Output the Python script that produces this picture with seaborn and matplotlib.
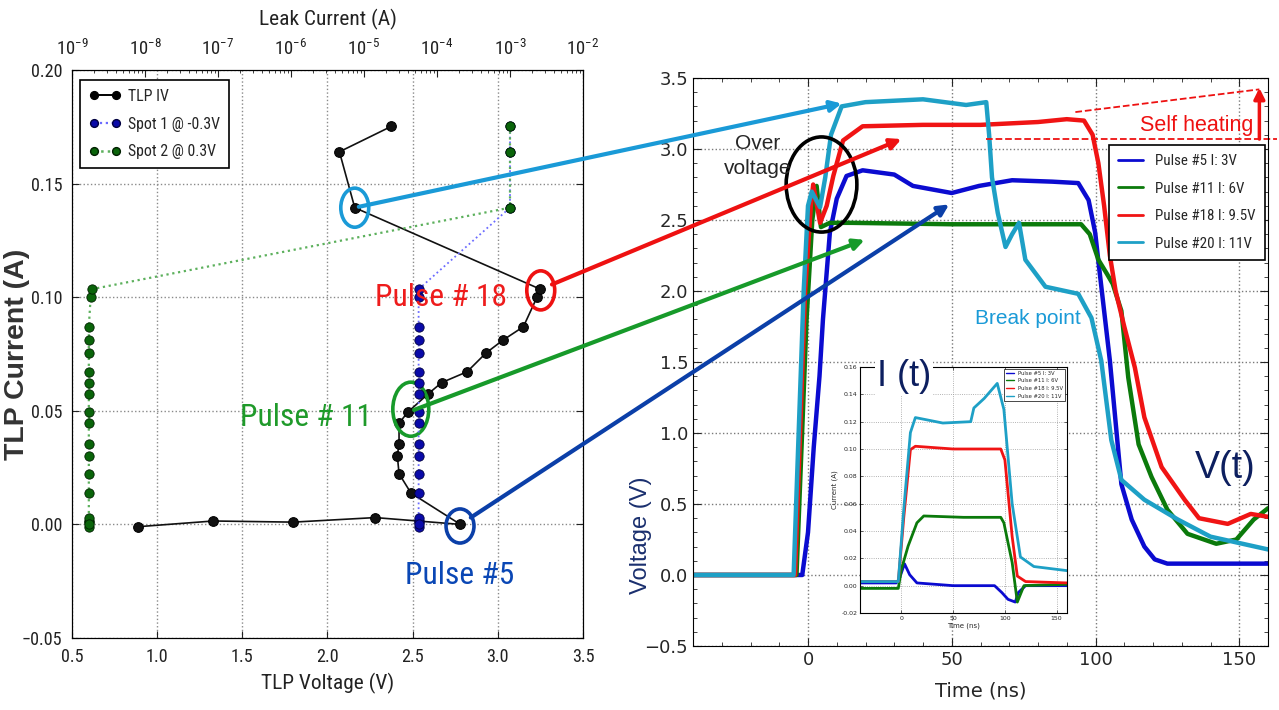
import matplotlib
matplotlib.use("Agg")
import matplotlib.pyplot as plt
import seaborn as sns
import numpy as np
import pandas as pd
from matplotlib.patches import Ellipse, ConnectionPatch
from matplotlib.lines import Line2D
from matplotlib.ticker import MultipleLocator, FixedLocator, FormatStrFormatter, LogFormatterSciNotation
from matplotlib import font_manager as fm

# ---------------- data: TLP I-V (left) ----------------
tlp_v = [0.89, 1.33, 1.80, 2.28, 2.78, 2.49, 2.42, 2.41, 2.42, 2.42, 2.47,
         2.59, 2.67, 2.82, 2.93, 3.03, 3.15, 3.23, 3.25, 2.16, 2.07, 2.375]
tlp_i = [-0.001, 0.0015, 0.001, 0.003, 0.000, 0.0138, 0.0223, 0.0302, 0.0355,
         0.0445, 0.0493, 0.0574, 0.0624, 0.0672, 0.0754, 0.0811, 0.0870,
         0.1000, 0.1035, 0.1394, 0.1640, 0.1752]
spot1_leak = [5.6e-5] * 19 + [1.0e-3, 1.0e-3, 1.0e-3]
spot2_leak = [1.7e-9] * 17 + [1.8e-9, 1.85e-9, 1.0e-3, 1.0e-3, 1.0e-3]
leak_ticks = [1e-9, 1e-8, 1e-7, 1e-6, 1e-5, 1e-4, 1e-3, 1e-2]

# ---------------- data: V(t) waveforms (right) ----------------
t5 = [-40, -2, 0, 2, 4, 5.2, 7.6, 10, 13.4, 19, 30, 36.5, 50, 59.5, 71, 85, 94,
      97.6, 99.9, 101, 105, 109, 112.6, 117, 120.6, 125, 160]
v5 = [0.0, 0.0, 0.3, 0.9, 1.4, 1.8, 2.41, 2.65, 2.81, 2.85, 2.82, 2.74, 2.69,
      2.74, 2.78, 2.77, 2.76, 2.64, 2.41, 2.21, 1.51, 0.64, 0.39, 0.20, 0.11,
      0.08, 0.08]
t11 = [-40, -4, -0.5, 1.5, 3, 4.5, 7.6, 15, 50, 95, 98, 101, 104, 106, 109,
       111.4, 115, 119.5, 125, 132, 142, 149, 155, 160]
v11 = [0.0, 0.0, 1.8, 2.5, 2.74, 2.45, 2.48, 2.48, 2.47, 2.47, 2.40, 2.22,
       2.12, 2.05, 1.86, 1.39, 0.92, 0.69, 0.46, 0.29, 0.22, 0.25, 0.39, 0.47]
t18 = [-40, -4.5, -1, 1, 1.8, 4.2, 6.5, 8.8, 12.2, 19, 40, 60, 80, 90, 96, 99,
       101, 103, 105, 107, 110, 113.7, 117, 123, 131, 136, 146, 154, 160]
v18 = [0.0, 0.0, 2.0, 2.6, 2.75, 2.48, 2.6, 2.81, 3.06, 3.16, 3.17, 3.17, 3.19,
       3.21, 3.2, 3.1, 2.9, 2.6, 2.25, 2.0, 1.75, 1.46, 1.11, 0.76, 0.53, 0.40,
       0.36, 0.43, 0.41]
t20 = [-40, -5, -1.5, 0, 1.3, 4.2, 6, 8, 11.7, 20, 40, 55, 62, 63, 64, 66,
       68.7, 71, 73.4, 75.6, 82.6, 94, 98.6, 102, 105.5, 109, 117, 128.7, 140, 160]
v20 = [0.0, 0.0, 2.0, 2.6, 2.70, 2.59, 2.8, 3.1, 3.30, 3.33, 3.35, 3.31, 3.33,
       3.1, 2.80, 2.55, 2.31, 2.40, 2.48, 2.22, 2.03, 1.98, 1.81, 1.51, 0.95,
       0.67, 0.53, 0.39, 0.27, 0.18]

# ---------------- data: I(t) inset ----------------
ti5 = [-40, -5, -2, 3, 8, 15, 50, 90, 97, 103, 110, 113, 120, 160]
ii5 = [0.002, 0.002, 0.005, 0.016, 0.008, 0.002, 0.0, 0.0, -0.005, -0.010,
       -0.012, -0.005, 0.0, 0.0]
ti11 = [-40, -3, 0, 6.5, 15, 21.6, 60, 96, 99, 107, 112, 118.4, 160]
ii11 = [-0.002, -0.002, 0.012, 0.029, 0.046, 0.051, 0.050, 0.050, 0.046,
        0.017, -0.012, 0.0, 0.001]
ti18 = [-40, -3, 2.3, 8.7, 13.5, 50, 96, 100, 107, 112, 120, 160]
ii18 = [0.003, 0.003, 0.050, 0.0995, 0.102, 0.100, 0.100, 0.092, 0.036,
        0.007, 0.003, 0.002]
ti20 = [-40, -3, 2.3, 8.7, 13.5, 40, 67, 70, 80, 92.6, 99, 107, 115, 128, 160]
ii20 = [0.003, 0.003, 0.056, 0.112, 0.123, 0.119, 0.120, 0.130, 0.137, 0.148,
        0.129, 0.060, 0.021, 0.014, 0.011]

pulse_labels = ["Pulse #5 I: 3V", "Pulse #11 I: 6V", "Pulse #18 I: 9.5V",
                "Pulse #20 I: 11V"]
left_labels = ["TLP IV", "Spot 1 @ -0.3V", "Spot 2 @ 0.3V"]

# ---------------- style ----------------
sns.set_style("ticks", {"xtick.direction": "in", "ytick.direction": "in",
                        "axes.edgecolor": "black"})
names = {f.name for f in fm.fontManager.ttflist}
NARROW, WF = "Liberation Sans", 1.0
for fam, wf in [("Liberation Sans Narrow", 0.82), ("Roboto Condensed", 0.85),
                ("Open Sans Condensed", 0.85), ("DejaVu Sans Condensed", 0.95)]:
    if fam in names:
        NARROW, WF = fam, wf
        break
K = 0.82 / WF          # scale so that widths match a narrow face
ARIAL = "Liberation Sans"
plt.rcParams["font.family"] = ["DejaVu Sans"]
plt.rcParams["axes.unicode_minus"] = True
plt.rcParams["mathtext.fontset"] = "custom"
plt.rcParams["mathtext.rm"] = NARROW
plt.rcParams["mathtext.it"] = NARROW
plt.rcParams["mathtext.bf"] = NARROW

C5, C11, C18, C20 = "#0b0bd0", "#0b7a0b", "#f01414", "#1ea0c6"
pulse_colors = [C5, C11, C18, C20]
NAVY = "#0d1f5f"

W, H = 1279, 710
fig = plt.figure(figsize=(W / 100, H / 100), dpi=100)
def fx(px): return px / W
def fy(py): return 1 - py / H

# ================= LEFT: TLP IV =================
ax1 = fig.add_axes([fx(72), fy(638), fx(583) - fx(72), fy(70) - fy(638)])
ax1.set_xlim(0.5, 3.5)
ax1.set_ylim(-0.05, 0.20)
ax1.xaxis.set_major_locator(MultipleLocator(0.5))
ax1.yaxis.set_major_locator(MultipleLocator(0.05))
ax1.grid(True, ls=":", color="#8a8a8a", lw=1.0)
ax1.tick_params(which="both", direction="in", right=True, top=False, length=5,
                labelsize=13.5 * K, colors="#222222")
ax1.tick_params(axis="x", pad=7)
ax1.tick_params(axis="y", pad=7)
sns.lineplot(x=tlp_v, y=tlp_i, ax=ax1, sort=False, estimator=None, color="#111111",
             lw=1.2, marker="o", markersize=7, markeredgecolor="black", zorder=3)
ax1.set_xlabel("TLP Voltage (V)", fontfamily=NARROW, fontsize=16 * K, color="#222222",
               labelpad=5)
ax1.set_ylabel("TLP Current (A)", fontfamily=ARIAL, fontsize=20.5, fontweight="bold",
               color="#333333")
ax1.yaxis.set_label_coords(-0.082, 0.5)
for lab in ax1.get_xticklabels() + ax1.get_yticklabels():
    lab.set_fontfamily(NARROW)

axt = ax1.twiny()
axt.set_xscale("log")
axt.set_xlim(1e-9, 1e-2)
axt.set_ylim(-0.05, 0.20)
axt.xaxis.set_major_locator(FixedLocator(leak_ticks))
axt.xaxis.set_major_formatter(LogFormatterSciNotation())
axt.xaxis.set_minor_locator(FixedLocator(
    [m * d for d in leak_ticks[:-1] for m in range(2, 10)]))
axt.tick_params(which="both", direction="in", top=True, bottom=False,
                labeltop=True, labelbottom=False, labelsize=14 * K, colors="#222222")
axt.tick_params(which="major", length=5, pad=8)
axt.tick_params(which="minor", length=2.5)
axt.set_xlabel("Leak Current (A)", fontfamily=NARROW, fontsize=16 * K, color="#222222",
               labelpad=10)
for lab in axt.get_xticklabels():
    lab.set_fontfamily(NARROW)

sns.lineplot(x=spot1_leak, y=tlp_i, ax=axt, sort=False, estimator=None,
             color="#6b6bff", lw=1.3, linestyle=":", zorder=2)
sns.scatterplot(x=spot1_leak, y=tlp_i, ax=axt, color="#0a0aa8", edgecolor="#000040",
                s=45, linewidth=0.6, zorder=3)
sns.lineplot(x=spot2_leak, y=tlp_i, ax=axt, sort=False, estimator=None,
             color="#5cb05c", lw=1.6, linestyle=":", zorder=2)
sns.scatterplot(x=spot2_leak, y=tlp_i, ax=axt, color="#0a640a", edgecolor="#002000",
                s=45, linewidth=0.6, zorder=4)

lh = [Line2D([], [], color="black", lw=1.4, marker="o", ms=7, mfc="black", mec="black"),
      Line2D([], [], color="#6b6bff", lw=1.6, ls=":", marker="o", ms=7, mfc="#0a0aa8", mec="#000040"),
      Line2D([], [], color="#5cb05c", lw=1.8, ls=":", marker="o", ms=7, mfc="#0a640a", mec="#002000")]
leg1 = axt.legend(lh, left_labels, loc="upper left", bbox_to_anchor=(fx(80), fy(80)),
                  bbox_transform=fig.transFigure, borderaxespad=0, numpoints=2,
                  markerscale=0.8,
                  prop={"family": NARROW, "size": 11.9 * K}, frameon=True, fancybox=False,
                  edgecolor="black", framealpha=1, handlelength=2.0, handletextpad=0.45,
                  labelspacing=0.8, borderpad=0.55)
leg1.get_frame().set_linewidth(1.2)

# circles around selected pulses
circ = [((2.16, 0.1394), 0.164, 0.0172, "#1a9ad7"),
        ((3.252, 0.1030), 0.164, 0.0172, "#ee1111"),
        ((2.489, 0.0507), 0.211, 0.0238, "#179a2a"),
        ((2.778, -0.0007), 0.164, 0.0150, "#0b3fa8")]
for (c, w, h, col) in circ:
    ax1.add_patch(Ellipse(c, w, h, fill=False, ec=col, lw=2.6, zorder=6, clip_on=False))

PS = 23.5 * K
fig.text(fx(375), fy(297), "Pulse # 18", color="#ee1c1c", fontsize=PS,
         family=NARROW, ha="left", va="center")
fig.text(fx(240), fy(418), "Pulse # 11", color="#1f9a2a", fontsize=PS,
         family=NARROW, ha="left", va="center")
fig.text(fx(405), fy(576), "Pulse #5", color="#0a47b5", fontsize=PS,
         family=NARROW, ha="left", va="center")

# ================= RIGHT: V(t) =================
ax2 = fig.add_axes([fx(693), fy(646), fx(1268) - fx(693), fy(78) - fy(646)])
ax2.set_xlim(-40, 160)
ax2.set_ylim(-0.5, 3.5)
ax2.xaxis.set_major_locator(MultipleLocator(50))
ax2.xaxis.set_minor_locator(MultipleLocator(10))
ax2.yaxis.set_major_locator(MultipleLocator(0.5))
ax2.yaxis.set_minor_locator(MultipleLocator(0.1))
ax2.grid(True, which="major", ls=":", color="#7a7a7a", lw=1.0)
ax2.tick_params(which="both", direction="in", top=True, right=True, labelsize=13)
ax2.tick_params(which="major", length=6)
ax2.tick_params(which="minor", length=3)
for (tt, vv, col) in [(t5, v5, C5), (t11, v11, C11), (t18, v18, C18), (t20, v20, C20)]:
    sns.lineplot(x=tt, y=vv, ax=ax2, sort=False, estimator=None, color=col, lw=3.2)
ax2.set_xlabel("Time (ns)", fontsize=14, labelpad=9)
ax2.set_ylabel("Voltage (V)", fontsize=17, family=ARIAL, color="#1a2f6e")
ax2.yaxis.set_label_coords(-0.071, 0.195)

ph = [Line2D([], [], color=c, lw=2) for c in pulse_colors]
leg2 = ax2.legend(ph, pulse_labels, loc="upper right", bbox_to_anchor=(fx(1265), fy(145)),
                  bbox_transform=fig.transFigure, borderaxespad=0,
                  prop={"family": NARROW, "size": 11.2 * K}, frameon=True, fancybox=False,
                  edgecolor="black", framealpha=1, handlelength=1.7, handletextpad=0.8,
                  labelspacing=0.9, borderpad=0.6)
leg2.get_frame().set_linewidth(1.2)

# over-voltage circle
ax2.add_patch(Ellipse((4.7, 2.75), 24.6, 0.67, fill=False, ec="black", lw=2.6, zorder=6))
fig.text(fx(758), fy(156), "Over\nvoltage", fontsize=15, family=ARIAL, ha="center",
         va="center", linespacing=1.45)
fig.text(fx(975), fy(318), "Break point", fontsize=15, family=ARIAL, color="#1a9ad7",
         ha="left", va="center")

# self heating marks
ax2.plot([62, 163], [3.07, 3.07], ls="--", color="#ee1111", lw=1.3, clip_on=False)
ax2.plot([93, 157], [3.26, 3.42], ls="--", color="#ee1111", lw=1.3, clip_on=False)
ax2.annotate("", xy=(157, 3.43), xytext=(157, 3.07), annotation_clip=False,
             arrowprops=dict(arrowstyle="-|>", color="#ee1111", lw=2.5, mutation_scale=16,
                             shrinkA=0, shrinkB=0))
fig.text(fx(1140), fy(125), "Self heating", fontsize=15.5, family=ARIAL, color="#ee1111",
         ha="left", va="center")
fig.text(fx(1195), fy(468), "V(t)", fontsize=27, family=ARIAL, color=NAVY,
         ha="left", va="center")

# ================= INSET: I(t) =================
ax3 = fig.add_axes([fx(860), fy(613), fx(1067) - fx(860), fy(367) - fy(613)])
ax3.set_xlim(-40, 160)
ax3.set_ylim(-0.02, 0.16)
ax3.xaxis.set_major_locator(MultipleLocator(50))
ax3.yaxis.set_major_locator(MultipleLocator(0.02))
ax3.grid(True, ls=":", color="#9a9a9a", lw=0.6)
ax3.tick_params(which="both", direction="in", top=True, right=True, labelsize=4.5,
                length=2, width=0.5, pad=2)
ax3.yaxis.set_major_formatter(FormatStrFormatter("%.2f"))
for sp in ax3.spines.values():
    sp.set_linewidth(0.8)
for (tt, ii, col) in [(ti5, ii5, C5), (ti11, ii11, C11), (ti18, ii18, C18), (ti20, ii20, C20)]:
    sns.lineplot(x=tt, y=ii, ax=ax3, sort=False, estimator=None, color=col, lw=2.0)
ax3.set_xlabel("Time (ns)", fontsize=5, labelpad=1)
ax3.set_ylabel("Current (A)", fontsize=5, labelpad=2)
ih = [Line2D([], [], color=c, lw=1) for c in pulse_colors]
leg3 = ax3.legend(ih, pulse_labels, loc="upper right", prop={"size": 3.8},
                  frameon=True, fancybox=False, edgecolor="black", framealpha=1,
                  handlelength=1.5, borderaxespad=0.3)
leg3.get_frame().set_linewidth(0.5)
fig.text(fx(877), fy(377), "I (t)", fontsize=26, family=ARIAL, color=NAVY, ha="left",
         va="center", bbox=dict(boxstyle="square,pad=0.05", fc="white", ec="none"))

# ================= connecting arrows =================
arrows = [((2.16, 0.1394), (11.7, 3.32), "#1a9ad7", 3),
          ((3.25, 0.1035), (32.5, 3.07), "#ee1111", 9),
          ((2.47, 0.0493), (19.7, 2.36), "#179a2a", 5),
          ((2.78, 0.000), (49.1, 2.61), "#0b3fa8", 9)]
for (pa, pb, col, shr) in arrows:
    con = ConnectionPatch(xyA=pa, coordsA="data", axesA=ax1, xyB=pb, coordsB="data",
                          axesB=ax2, arrowstyle="-|>", color=col, lw=3,
                          mutation_scale=16, shrinkA=shr, shrinkB=0, zorder=10)
    fig.add_artist(con)

fig.savefig("out.png", dpi=100)
